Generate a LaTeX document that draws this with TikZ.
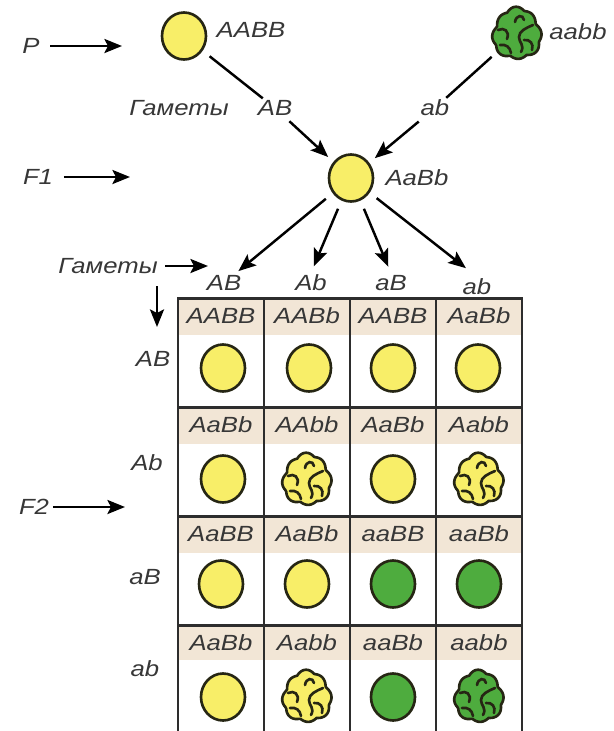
\documentclass[tikz,border=0pt]{standalone}
\usepackage{fontspec}
\newfontfamily\gfont[FakeStretch=1.17]{Liberation Sans}
\usetikzlibrary{arrows.meta,shapes.geometric}
\definecolor{peayellow}{RGB}{248,238,104}
\definecolor{peagreen}{RGB}{78,172,62}
\definecolor{peaedge}{RGB}{38,38,20}
\definecolor{headfill}{RGB}{242,230,214}
\definecolor{txtgrey}{RGB}{55,55,55}
\definecolor{gridgrey}{RGB}{45,45,45}
\tikzset{
  lbl/.style={inner sep=1pt, text=txtgrey, font=\gfont\itshape\fontsize{12.5}{14}\selectfont},
  pea/.style={ellipse, draw=peaedge, line width=1.5pt, minimum width=0.88cm, minimum height=0.94cm, inner sep=0pt},
  wpea/.style={circle, minimum size=1cm, inner sep=0pt},
  arr/.style={line width=1.4pt, -{Stealth[length=10pt,width=8pt,inset=2pt]}},
  gline/.style={draw=gridgrey, line width=1.2pt},
  rline/.style={draw=gridgrey, line width=1.7pt},
  wrinkled/.pic={
    \draw[fill=#1, draw=peaedge, line width=1.5pt, line join=round] plot[smooth cycle, samples=90, domain=0:356, variable=\t] ({(22+2.6*abs(cos(4*\t+15))+1.2*sin(3*\t))*cos(\t)}, {(23.5+2.6*abs(cos(4*\t+15))+1.2*sin(3*\t))*sin(\t)});
    \draw[draw=peaedge, line width=1.5pt, line cap=round] (-2,-12) .. controls (-1,-19) and (6,-20) .. (7,-14);
    \draw[draw=peaedge, line width=1.5pt, line cap=round] (16,-9) .. controls (9,-6) and (2,-3) .. (2,3) .. controls (2,9) and (8,11) .. (4,18);
    \draw[draw=peaedge, line width=1.5pt, line cap=round] (-19,-4) .. controls (-13,-7) and (-7,-3) .. (-10,5);
    \draw[draw=peaedge, line width=1.5pt, line cap=round] (7,6) .. controls (13,5) and (17,10) .. (15,16);
    \draw[draw=peaedge, line width=1.5pt, line cap=round] (-17,11) .. controls (-11,10) and (-7,13) .. (-6,19);
  }
}
\begin{document}
\begin{tikzpicture}[x=0.02cm,y=-0.02cm]
\useasboundingbox (0,0) rectangle (613,731);
\node[lbl] (lP) at (31,46) {P};
\node[lbl] (lF1) at (38,177) {F1};
\node[lbl] (lF2) at (34,507) {F2};
\coordinate (pend) at (122,46);
\coordinate (f1end) at (130,177);
\coordinate (f2end) at (125,507);
\node[pea, fill=peayellow] (pY) at (184,36) {};
\node[lbl] (tY) at (251,30) {AABB};
\node[wpea] (pG) at (517,34) {};
\pic at (pG) {wrinkled=peagreen};
\node[lbl] (tG) at (578,32) {aabb};
\node[lbl] (gam1) at (179,108) {Гаметы};
\node[lbl] (gAB0) at (275,108) {AB};
\node[lbl] (gab0) at (435,108) {ab};
\node[pea, fill=peayellow] (f1) at (351,178) {};
\node[lbl] (tf1) at (417,178) {AaBb};
\node[lbl] (gam2) at (108,266) {Гаметы};
\coordinate (gamend) at (208,266);
\node[lbl] (gAB1) at (224,283) {AB};
\node[lbl] (gAb1) at (311,283) {Ab};
\node[lbl] (gaB1) at (391,283) {aB};
\node[lbl] (gab1) at (477,287) {ab};
\coordinate (dtop) at (157,286);
\coordinate (dend) at (157,327);
\node[lbl] (rAB) at (153,359) {AB};
\node[lbl] (rAb) at (147,463) {Ab};
\node[lbl] (raB) at (145,577) {aB};
\node[lbl] (rab) at (145,669) {ab};
\fill[headfill] (178,298) rectangle (522,335);
\fill[headfill] (178,407) rectangle (522,444);
\fill[headfill] (178,516) rectangle (522,553);
\fill[headfill] (178,625) rectangle (522,660);
\draw[rline] (178,298) -- (522,298);
\draw[rline] (178,407) -- (522,407);
\draw[rline] (178,516) -- (522,516);
\draw[rline] (178,625) -- (522,625);
\draw[gline] (178,297) -- (178,731);
\draw[gline] (264,297) -- (264,731);
\draw[gline] (350,297) -- (350,731);
\draw[gline] (436,297) -- (436,731);
\draw[gline] (522,297) -- (522,731);
\node[lbl] (h1c1) at (221,316) {AABB};
\node[lbl] (h1c2) at (307,316) {AABb};
\node[lbl] (h1c3) at (393,316) {AABB};
\node[lbl] (h1c4) at (479,316) {AaBb};
\node[pea, fill=peayellow] (s1c1) at (223,368) {};
\node[pea, fill=peayellow] (s1c2) at (309,368) {};
\node[pea, fill=peayellow] (s1c3) at (393,368) {};
\node[pea, fill=peayellow] (s1c4) at (478,368) {};
\node[lbl] (h2c1) at (221,425) {AaBb};
\node[lbl] (h2c2) at (307,425) {AAbb};
\node[lbl] (h2c3) at (393,425) {AaBb};
\node[lbl] (h2c4) at (479,425) {Aabb};
\node[pea, fill=peayellow] (s2c1) at (223,479) {};
\node[wpea] (s2c2) at (307,480) {};
\pic at (s2c2) {wrinkled=peayellow};
\node[pea, fill=peayellow] (s2c3) at (393,479) {};
\node[wpea] (s2c4) at (479,480) {};
\pic at (s2c4) {wrinkled=peayellow};
\node[lbl] (h3c1) at (221,534) {AaBB};
\node[lbl] (h3c2) at (307,534) {AaBb};
\node[lbl] (h3c3) at (393,534) {aaBB};
\node[lbl] (h3c4) at (479,534) {aaBb};
\node[pea, fill=peayellow] (s3c1) at (221,584) {};
\node[pea, fill=peayellow] (s3c2) at (307,584) {};
\node[pea, fill=peagreen] (s3c3) at (393,584) {};
\node[pea, fill=peagreen] (s3c4) at (479,584) {};
\node[lbl] (h4c1) at (221,643) {AaBb};
\node[lbl] (h4c2) at (307,643) {Aabb};
\node[lbl] (h4c3) at (393,643) {aaBb};
\node[lbl] (h4c4) at (479,643) {aabb};
\node[pea, fill=peayellow] (s4c1) at (223,697) {};
\node[wpea] (s4c2) at (307,697) {};
\pic at (s4c2) {wrinkled=peayellow};
\node[pea, fill=peagreen] (s4c3) at (393,697) {};
\node[wpea] (s4c4) at (479,697) {};
\pic at (s4c4) {wrinkled=peagreen};
\draw[arr, shorten <=5pt] (lP) to (pend);
\draw[arr, shorten <=5pt] (lF1) to (f1end);
\draw[arr, shorten <=1pt] (lF2) to (f2end);
\draw[arr, shorten <=3pt] (gam2) to (gamend);
\draw[arr] (dtop) to (dend);
\draw[line width=1.4pt, shorten <=5pt] (pY) to (gAB0);
\draw[line width=1.4pt, shorten <=5pt] (pG) to (gab0);
\draw[arr, shorten <=3pt, shorten >=4pt] (gAB0) to (f1);
\draw[arr, shorten <=3pt, shorten >=4pt] (gab0) to (f1);
\draw[arr, shorten <=5pt, shorten >=2pt] (f1) to (gAB1);
\draw[arr, shorten <=5pt, shorten >=4pt] (f1) to (gAb1.north);
\draw[arr, shorten <=5pt, shorten >=4pt] (f1) to (gaB1.north);
\draw[arr, shorten <=5pt, shorten >=8pt] (f1) to (gab1.north);
\end{tikzpicture}
\end{document}
